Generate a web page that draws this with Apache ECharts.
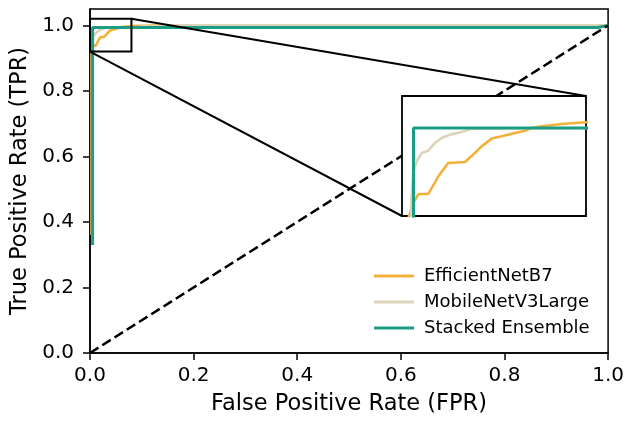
<!DOCTYPE html>
<html>
<head>
  <meta charset="utf-8">
  <script src="https://cdn.jsdelivr.net/npm/echarts@6/dist/echarts.min.js"></script>
</head>
<body style="margin: 0">
  <div id="container" style="width: 627px; height: 421px"></div>
  <script type="text/javascript">
    // ROC curves
    // (the low parts along FPR ~ 0 sit under the spine / ensemble line there)
    var seriesNames = ['EfficientNetB7', 'MobileNetV3Large', 'Stacked Ensemble'];
    var seriesColors = ['#f2b13a', '#dcd3b8', '#1b9e85'];

    var effFpr = [0.003, 0.003, 0.0049, 0.0071, 0.0114, 0.0158, 0.0201, 0.0274, 0.0317, 0.0346,
      0.039, 0.0433, 0.0491, 0.0535, 0.0564, 0.0607, 0.0694, 0.0799, 0.09, 0.11, 0.13, 1];
    var effTpr = [0.36, 0.9197, 0.9308, 0.9383, 0.9383, 0.9531, 0.9642, 0.965, 0.9725, 0.978,
      0.9845, 0.9864, 0.9892, 0.9911, 0.9933, 0.9947, 0.9967, 0.9981, 0.9985, 0.999, 1, 1];

    var mobFpr = [0.004, 0.004, 0.0049, 0.0064, 0.0086, 0.0114, 0.0143, 0.0172, 0.0209, 0.026, 0.0303,
      0.09, 0.1, 0.125, 0.14, 1];
    var mobTpr = [0.36, 0.93, 0.957, 0.9656, 0.9725, 0.9744, 0.9808, 0.985, 0.9878, 0.99, 0.9928,
      0.9935, 0.997, 0.998, 1, 1];

    var ensFpr = [0.005, 0.005, 0.98, 1];
    var ensTpr = [0.33, 0.9933, 0.9933, 1];

    var diagFpr = [0, 1];
    var diagTpr = [0, 1];

    var tickValues = [0, 0.2, 0.4, 0.6, 0.8, 1.0];
    var zoomX = [0, 0.08];
    var zoomY = [0.92, 1.02];

    function pairs(xs, ys) {
      return xs.map(function (x, i) { return [x, ys[i]]; });
    }

    var curves = [pairs(effFpr, effTpr), pairs(mobFpr, mobTpr), pairs(ensFpr, ensTpr)];
    var font = 'DejaVu Sans';

    var dom = document.getElementById('container');
    var myChart = echarts.init(dom, null, { renderer: 'canvas' });

    var series = [];
    // main axes
    curves.forEach(function (d, i) {
      series.push({
        name: seriesNames[i],
        type: 'line',
        xAxisIndex: 0,
        yAxisIndex: 0,
        data: d,
        symbol: 'none',
        animation: false,
        lineStyle: { color: seriesColors[i], width: i === 2 ? 3 : 2.6 },
        itemStyle: { color: seriesColors[i] }
      });
    });
    series.push({
      name: 'chance',
      type: 'line',
      data: pairs(diagFpr, diagTpr),
      symbol: 'none',
      animation: false,
      lineStyle: { color: '#000', width: 2.5, type: [10, 4.5] }
    });
    // inset axes
    curves.forEach(function (d, i) {
      series.push({
        name: seriesNames[i],
        type: 'line',
        xAxisIndex: 1,
        yAxisIndex: 1,
        zlevel: 1,
        data: d,
        symbol: 'none',
        animation: false,
        lineStyle: { color: seriesColors[i], width: i === 2 ? 3 : 2.6 },
        itemStyle: { color: seriesColors[i] }
      });
    });

    var option = {
      backgroundColor: '#fff',
      animation: false,
      textStyle: { fontFamily: font },
      grid: [
        { left: 90, right: 18, top: 9, bottom: 66, show: true, z: 3, borderColor: '#000', borderWidth: 1.5 },
        {
          left: 402, top: 96, width: 184, height: 120, show: true, zlevel: 1,
          backgroundColor: '#fff', borderColor: '#000', borderWidth: 1.8
        }
      ],
      legend: {
        data: seriesNames,
        orient: 'vertical',
        left: 369,
        top: 262,
        icon: 'rect',
        itemWidth: 40,
        itemHeight: 3,
        itemGap: 8,
        textStyle: { fontFamily: font, fontSize: 18, color: '#000', padding: [0, 0, 0, 5] }
      },
      xAxis: [
        {
          type: 'value',
          gridIndex: 0,
          z: 3,
          min: 0,
          max: 1,
          interval: 0.2,
          name: 'False Positive Rate (FPR)',
          nameLocation: 'middle',
          nameGap: 40,
          nameTextStyle: { fontFamily: font, fontSize: 22.5, color: '#000' },
          axisLine: { lineStyle: { color: '#000', width: 1.5 } },
          axisTick: { length: 7, lineStyle: { color: '#000', width: 1.5 }, customValues: tickValues },
          axisLabel: {
            customValues: tickValues,
            margin: 13,
            fontFamily: font, fontSize: 20, color: '#000',
            formatter: function (v) { return v.toFixed(1); }
          },
          splitLine: { show: false }
        },
        { type: 'value', gridIndex: 1, min: zoomX[0], max: zoomX[1], show: false }
      ],
      yAxis: [
        {
          type: 'value',
          gridIndex: 0,
          z: 3,
          min: 0,
          max: 1.05,
          interval: 0.2,
          name: 'True Positive Rate (TPR)',
          nameLocation: 'middle',
          nameGap: 56,
          nameTextStyle: { fontFamily: font, fontSize: 22.5, color: '#000' },
          axisLine: { lineStyle: { color: '#000', width: 1.5 } },
          axisTick: { length: 7, lineStyle: { color: '#000', width: 1.5 }, customValues: tickValues },
          axisLabel: {
            customValues: tickValues,
            margin: 16,
            fontFamily: font, fontSize: 20, color: '#000',
            formatter: function (v) { return v > 1.001 ? '' : v.toFixed(1); }
          },
          splitLine: { show: false }
        },
        { type: 'value', gridIndex: 1, min: zoomY[0], max: zoomY[1], show: false }
      ],
      series: series
    };

    myChart.setOption(option);

    // zoom box on the main axes and the two connector lines to the inset
    var boxTL = myChart.convertToPixel({ gridIndex: 0 }, [zoomX[0], zoomY[1]]);
    var boxBR = myChart.convertToPixel({ gridIndex: 0 }, [zoomX[1], zoomY[0]]);
    var insTR = myChart.convertToPixel({ gridIndex: 1 }, [zoomX[1], zoomY[1]]);
    var insBL = myChart.convertToPixel({ gridIndex: 1 }, [zoomX[0], zoomY[0]]);
    var lineStyle = { stroke: '#000', lineWidth: 2, fill: null };

    myChart.setOption({
      graphic: [
        {
          type: 'rect', z: 50,
          shape: { x: boxTL[0], y: boxTL[1], width: boxBR[0] - boxTL[0], height: boxBR[1] - boxTL[1] },
          style: lineStyle
        },
        {
          type: 'line', z: 50,
          shape: { x1: boxBR[0], y1: boxTL[1], x2: insTR[0], y2: insTR[1] },
          style: lineStyle
        },
        {
          type: 'line', z: 50,
          shape: { x1: boxTL[0], y1: boxBR[1], x2: insBL[0], y2: insBL[1] },
          style: lineStyle
        }
      ]
    });

    window.addEventListener('resize', myChart.resize);
  </script>
</body>
</html>
